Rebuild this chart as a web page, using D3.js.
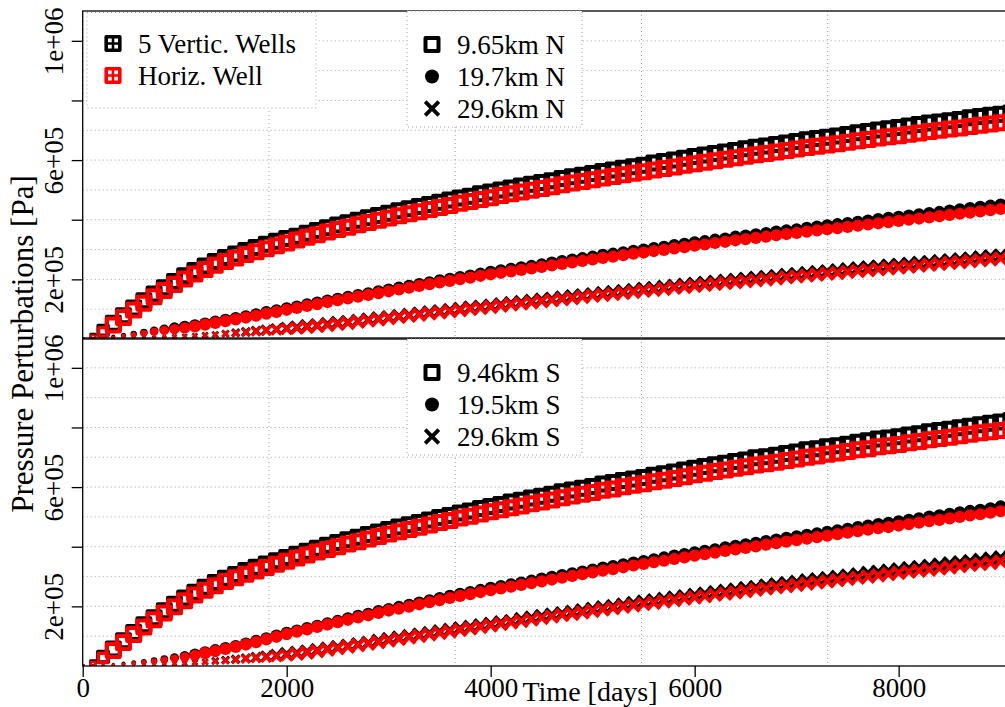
<!DOCTYPE html>
<html><head><meta charset="utf-8">
<script src="https://cdn.jsdelivr.net/npm/d3@7"></script>
<style>
body{margin:0;background:#fff}
svg{display:block}
text{font-family:"Liberation Serif","Times New Roman",serif;fill:#000}
</style>
</head><body>
<svg id="c" width="1005" height="707"></svg>
<script>
// ---------- data (pressure in kPa, time in days) ----------
const days = [0,100,200,300,400,500,600,700,800,900,
1000,1100,1200,1300,1400,1500,1600,1700,1800,1900,
2000,2100,2200,2300,2400,2500,2600,2700,2800,2900,
3000,3100,3200,3300,3400,3500,3600,3700,3800,3900,
4000,4100,4200,4300,4400,4500,4600,4700,4800,4900,
5000,5100,5200,5300,5400,5500,5600,5700,5800,5900,
6000,6100,6200,6300,6400,6500,6600,6700,6800,6900,
7000,7100,7200,7300,7400,7500,7600,7700,7800,7900,
8000,8100,8200,8300,8400,8500,8600,8700,8800,8900,
9000,9100];

// North, 9.65 km
const nSqVert = [0,9,29,53,78,104,128,151,172,193,
212,230,245,260,273,285,297,307,318,328,
337,345,355,364,373,382,390,398,407,414,
422,430,437,444,451,459,466,473,479,487,
493,500,506,513,519,525,531,538,544,549,
555,562,567,573,578,583,590,595,600,606,
612,617,622,627,632,638,643,647,652,657,
662,668,672,677,681,686,692,696,701,705,
709,714,719,724,728,732,736,742,746,750,
754,758];
const nSqHoriz = [0,6,24,47,72,97,120,142,163,183,
201,218,233,247,260,272,283,293,303,313,
322,332,341,350,359,367,375,383,391,398,
406,413,420,427,434,441,448,455,461,468,
474,481,487,493,499,505,511,517,523,528,
534,540,545,551,556,561,567,572,577,583,
588,593,598,603,608,613,618,622,627,632,
637,642,646,651,655,660,665,669,674,678,
682,687,691,696,700,704,708,713,717,721,
725,729];
// North, 19.7 km
const nCiVert = [0,2,4,8,12,17,22,27,32,37,
41,46,52,58,64,70,76,83,90,96,
103,109,116,122,129,135,141,147,153,160,
166,172,178,184,190,197,202,208,213,219,
225,230,235,240,245,250,256,261,266,271,
276,282,286,291,296,300,305,309,315,319,
324,328,333,337,343,347,351,355,360,364,
368,373,377,381,385,389,393,397,402,406,
410,414,418,422,426,431,435,439,443,447,
451,455];
const nCiHoriz = [0,1,3,6,10,14,19,24,29,33,
37,42,48,54,60,66,72,78,85,91,
98,104,111,117,124,130,136,142,148,154,
160,166,172,178,184,190,195,201,206,212,
217,222,227,232,237,242,247,252,257,262,
267,272,276,281,286,290,295,299,304,308,
313,317,322,326,331,335,339,343,348,352,
356,360,364,368,372,376,380,384,388,392,
396,400,404,408,412,416,420,424,428,432,
436,440];
// North, 29.6 km
const nXVert = [0,0,1,1,2,3,4,5,6,8,
9,11,13,15,18,21,24,27,30,33,
36,39,43,46,50,54,57,61,65,69,
73,77,81,85,89,93,97,101,105,108,
112,116,120,124,128,132,135,139,143,146,
150,154,157,161,164,168,171,175,178,182,
185,188,192,195,198,202,205,208,211,215,
218,221,224,227,230,234,237,240,243,246,
249,252,255,258,261,264,267,270,274,277,
280,283];
const nXHoriz = [0,0,0,1,1,2,3,4,5,7,
8,10,12,14,17,19,22,25,28,31,
34,37,40,44,47,51,54,58,62,66,
70,74,78,82,86,89,93,97,101,104,
108,112,116,119,123,127,130,134,137,141,
145,148,151,155,158,162,165,168,172,175,
178,181,185,188,191,194,197,200,203,207,
210,213,216,219,222,225,228,231,234,237,
240,243,246,249,252,255,258,261,264,267,
270,273];

// South, 9.46 km
const sSqVert = [0,10,31,57,85,112,138,162,185,207,
228,247,264,280,294,307,320,331,342,353,
364,375,385,395,405,414,423,432,441,449,
458,466,474,481,490,498,505,513,520,528,
535,542,550,556,563,569,576,584,590,596,
602,610,615,622,627,632,640,645,651,657,
663,669,675,680,686,691,698,702,707,713,
718,725,729,735,739,744,750,755,761,765,
769,775,779,786,790,794,799,804,809,814,
818,823];
const sSqHoriz = [0,7,27,52,79,106,131,155,178,199,
219,238,254,269,283,296,308,319,330,341,
351,362,372,382,391,400,409,417,426,434,
443,450,458,465,473,481,488,496,502,510,
517,524,531,537,544,550,557,564,570,576,
582,589,594,601,606,611,618,623,629,635,
641,646,652,657,663,668,674,678,683,689,
694,700,704,710,714,719,725,729,735,739,
743,749,753,759,763,767,772,777,782,786,
790,795];
// South, 19.5 km
const sCiVert = [0,2,3,5,8,11,14,18,23,28,
33,39,46,53,60,67,75,84,93,102,
111,119,127,135,143,151,160,168,175,184,
191,198,205,213,220,228,235,242,248,255,
262,268,274,280,286,293,299,305,311,317,
323,330,335,341,347,352,358,364,370,375,
381,386,391,398,403,408,413,419,424,430,
435,440,445,450,455,460,466,471,476,480,
485,490,495,501,505,510,515,520,524,529,
535,539];
const sCiHoriz = [0,1,2,4,6,9,12,16,20,25,
30,36,43,50,57,64,72,80,89,98,
107,115,123,131,139,147,155,163,170,178,
186,192,199,207,214,221,228,235,241,248,
254,260,266,272,278,284,290,296,302,308,
314,320,325,331,337,342,348,353,359,364,
370,375,380,386,391,396,401,407,412,417,
422,427,432,437,442,447,452,457,462,466,
471,476,481,486,490,495,500,505,509,514,
519,523];
// South, 29.6 km
const sXVert = [0,0,1,1,2,3,4,5,7,8,
10,12,14,17,20,23,26,29,32,36,
40,44,48,53,58,63,68,73,78,84,
90,95,100,105,110,116,121,126,131,136,
141,146,151,157,162,167,172,177,182,187,
192,197,201,206,211,216,220,225,229,234,
239,243,248,252,256,261,265,270,274,278,
282,287,291,295,299,303,307,312,316,320,
324,328,332,336,340,344,348,352,356,360,
364,368];
const sXHoriz = [0,0,0,1,1,2,3,4,5,7,
9,11,13,15,18,21,24,27,30,33,
37,41,45,50,55,60,65,70,75,80,
86,91,96,101,106,111,116,121,126,131,
136,141,146,151,156,161,166,171,175,180,
185,190,194,199,203,208,212,217,221,226,
230,234,239,243,247,251,256,260,264,268,
272,276,280,284,288,292,296,300,304,308,
312,316,320,323,327,331,335,339,342,346,
350,354];

const xTicks = [0,2000,4000,6000,8000];
const yTicks = [200000,400000,600000,800000,1000000];
const yTickLabels = ["2e+05","","6e+05","","1e+06"];
const modelNames = ["5 Vertic. Wells","Horiz. Well"];
const distNamesN = ["9.65km N","19.7km N","29.6km N"];
const distNamesS = ["9.46km S","19.5km S","29.6km S"];
const xTitle = "Time [days]";
const yTitle = "Pressure Perturbations [Pa]";

// ---------- layout ----------
const W = 1005, H = 707;
const FONT = "'Liberation Serif','Times New Roman',serif";
const svg = d3.select("#c");
svg.append("rect").attr("width", W).attr("height", H).attr("fill", "#fff");

const xMaxDays = 9131, yMaxPa = 1.1e6;
const plotL = 82.7, plotR = 1014;
const x = d3.scaleLinear().domain([0, xMaxDays]).range([plotL, plotR]);
const sizeF = d3.scaleLinear().domain([0, 41000]).range([0.18, 1]).clamp(true);
const modelColor = ["#000000", "#ff0000"];
const gridCol = "#a0a0a0";

const panels = [
  {top: 11, bottom: 339, series: [[nSqVert, nCiVert, nXVert], [nSqHoriz, nCiHoriz, nXHoriz]], dist: distNamesN, legTop: 11, modelLegend: true},
  {top: 338, bottom: 666, series: [[sSqVert, sCiVert, sXVert], [sSqHoriz, sCiHoriz, sXHoriz]], dist: distNamesS, legTop: 339, modelLegend: false}
];

function drawMarker(g, kind, cx, cy, f, color, base) {
  if (kind === 0) {
    const s = (base ? base : 13) * f;
    g.append("rect").attr("x", cx - s/2).attr("y", cy - s/2).attr("width", s).attr("height", s)
      .attr("fill", "none").attr("stroke", color).attr("stroke-width", 4 * Math.sqrt(f))
      .attr("stroke-linejoin", "round");
  } else if (kind === 1) {
    g.append("circle").attr("cx", cx).attr("cy", cy).attr("r", (base ? base : 6.1) * f).attr("fill", color);
  } else {
    const a = (base ? base : 6) * f;
    g.append("path").attr("d", `M${cx-a},${cy-a}L${cx+a},${cy+a}M${cx-a},${cy+a}L${cx+a},${cy-a}`)
      .attr("fill", "none").attr("stroke", color).attr("stroke-width", 3.8 * Math.sqrt(f));
  }
}

panels.forEach((p, pi) => {
  const y = d3.scaleLinear().domain([0, yMaxPa]).range([p.bottom, p.top]);
  const clipId = "clip" + pi;
  svg.append("clipPath").attr("id", clipId).append("rect")
    .attr("x", plotL).attr("y", p.top).attr("width", plotR - plotL).attr("height", p.bottom - p.top);

  // grid
  const grid = svg.append("g").attr("clip-path", `url(#${clipId})`);
  y.ticks(11).filter(v => v > 0 && v < yMaxPa).forEach(v => {
    grid.append("line").attr("x1", plotL).attr("x2", plotR).attr("y1", y(v)).attr("y2", y(v))
      .attr("stroke", gridCol).attr("stroke-width", 1).attr("stroke-dasharray", "1,3");
  });
  [1,2,3,4].forEach(k => {
    const gx = x(xMaxDays * k / 5);
    grid.append("line").attr("x1", gx).attr("x2", gx).attr("y1", p.top).attr("y2", p.bottom)
      .attr("stroke", gridCol).attr("stroke-width", 1).attr("stroke-dasharray", "1,3");
  });

  // data markers
  const mg = svg.append("g").attr("clip-path", `url(#${clipId})`);
  p.series.forEach((model, mi) => {
    model.forEach((vals, kind) => {
      vals.forEach((v, i) => {
        drawMarker(mg, kind, x(days[i]), y(v * 1000), sizeF(v * 1000), modelColor[mi]);
      });
    });
  });

  // box
  svg.append("rect").attr("x", plotL).attr("y", p.top).attr("width", plotR - plotL).attr("height", p.bottom - p.top)
    .attr("fill", "none").attr("stroke", "#000").attr("stroke-width", 1.3);

  // y axis
  const ya = svg.append("g").attr("transform", `translate(${plotL},0)`)
    .call(d3.axisLeft(y).tickValues(yTicks).tickSize(11).tickFormat((d, i) => yTickLabels[i]));
  ya.select(".domain").remove();
  ya.selectAll(".tick line").attr("stroke", "#000").attr("stroke-width", 1.3);
  ya.selectAll(".tick text")
    .attr("x", null).attr("dy", null)
    .attr("transform", `translate(${63 - plotL},0) rotate(-90)`)
    .attr("text-anchor", "middle")
    .attr("font-size", 27)
    .style("font-family", FONT);

  // distance legend
  const lg = svg.append("g");
  lg.append("rect").attr("x", 407).attr("y", p.legTop).attr("width", 175).attr("height", 116)
    .attr("fill", "#fff").attr("stroke", gridCol).attr("stroke-width", 1).attr("stroke-dasharray", "1,3");
  p.dist.forEach((name, k) => {
    const cy = p.legTop + 33.5 + k * 32;
    drawMarker(lg, k, 432, cy, 1, "#000", [13, 7, 6.8][k]);
    lg.append("text").attr("x", 457).attr("y", cy + 9).attr("font-size", 27).style("font-family", FONT).text(name);
  });

  // model legend
  if (p.modelLegend) {
    const mgl = svg.append("g");
    mgl.append("rect").attr("x", 87).attr("y", 12.5).attr("width", 229).attr("height", 95.5)
      .attr("fill", "#fff").attr("stroke", gridCol).attr("stroke-width", 1).attr("stroke-dasharray", "1,3");
    modelNames.forEach((name, k) => {
      const cy = 43.5 + k * 32, cx = 113;
      const col = modelColor[k];
      mgl.append("rect").attr("x", cx - 6.8).attr("y", cy - 6.8).attr("width", 13.6).attr("height", 13.6)
        .attr("fill", "none").attr("stroke", col).attr("stroke-width", 3.6).attr("stroke-linejoin", "round");
      mgl.append("path").attr("d", `M${cx-6.8},${cy}L${cx+6.8},${cy}M${cx},${cy-6.8}L${cx},${cy+6.8}`)
        .attr("stroke", col).attr("stroke-width", 2.6);
      mgl.append("text").attr("x", 138).attr("y", cy + 9.5).attr("font-size", 27).style("font-family", FONT).text(name);
    });
  }

  // x axis on bottom panel
  if (pi === 1) {
    const xa = svg.append("g").attr("transform", `translate(0,${p.bottom})`)
      .call(d3.axisBottom(x).tickValues(xTicks).tickSize(11).tickFormat(d3.format("d")));
    xa.select(".domain").remove();
    xa.selectAll(".tick line").attr("stroke", "#000").attr("stroke-width", 1.3);
    xa.selectAll(".tick text").attr("y", 31).attr("dy", null).attr("font-size", 27)
      .style("font-family", FONT);
  }
});

// axis titles
svg.append("text").attr("x", 590).attr("y", 701).attr("text-anchor", "middle")
  .attr("font-size", 28).style("font-family", FONT).text(xTitle);
svg.append("text").attr("transform", "translate(33,344) rotate(-90)").attr("text-anchor", "middle")
  .attr("font-size", 31).style("font-family", FONT).text(yTitle);
</script>
</body></html>
